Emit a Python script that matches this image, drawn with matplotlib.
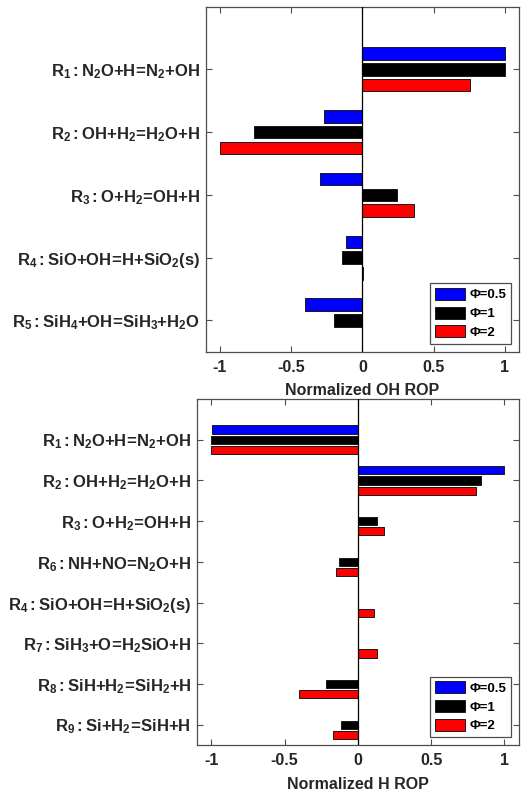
import matplotlib
matplotlib.use('Agg')
import matplotlib.pyplot as plt
import numpy as np

# Datos: ROP normalizado de OH (panel superior) y de H (panel inferior)
phi_labels = ['Φ=0.5', 'Φ=1', 'Φ=2']
colors = ['#0000ff', '#000000', '#ff0000']

oh_reactions = [
    r'$R_1:N_2O{+}H\!=\!N_2{+}OH$',
    r'$R_2:OH{+}H_2\!=\!H_2O{+}H$',
    r'$R_3:O{+}H_2\!=\!OH{+}H$',
    r'$R_4:SiO{+}OH\!=\!H{+}SiO_2(s)$',
    r'$R_5:SiH_4{+}OH\!=\!SiH_3{+}H_2O$',
]
oh_phi05 = [1.0, -0.271, -0.297, -0.117, -0.403]
oh_phi1 = [1.0, -0.762, 0.242, -0.145, -0.199]
oh_phi2 = [0.757, -1.0, 0.361, 0.003, 0.0]

h_reactions = [
    r'$R_1:N_2O{+}H\!=\!N_2{+}OH$',
    r'$R_2:OH{+}H_2\!=\!H_2O{+}H$',
    r'$R_3:O{+}H_2\!=\!OH{+}H$',
    r'$R_6:NH{+}NO\!=\!N_2O{+}H$',
    r'$R_4:SiO{+}OH\!=\!H{+}SiO_2(s)$',
    r'$R_7:SiH_3{+}O\!=\!H_2SiO{+}H$',
    r'$R_8:SiH{+}H_2\!=\!SiH_2{+}H$',
    r'$R_9:Si{+}H_2\!=\!SiH{+}H$',
]
h_phi05 = [-0.997, 1.0, 0.0, 0.0, 0.0, 0.0, 0.0, 0.0]
h_phi1 = [-1.0, 0.84, 0.132, -0.13, 0.0, 0.0, -0.218, -0.113]
h_phi2 = [-1.0, 0.805, 0.175, -0.15, 0.111, 0.134, -0.405, -0.169]

xticks = [-1, -0.5, 0, 0.5, 1]
xtick_labels = ['-1', '-0.5', '0', '0.5', '1']

plt.rcParams['font.family'] = 'Liberation Sans'
plt.rcParams['font.weight'] = 'bold'
plt.rcParams['mathtext.fontset'] = 'custom'
plt.rcParams['mathtext.rm'] = 'Liberation Sans:bold'
plt.rcParams['mathtext.it'] = 'Liberation Sans:bold'
plt.rcParams['mathtext.bf'] = 'Liberation Sans:bold'
plt.rcParams['axes.unicode_minus'] = False

text_color = '#262626'
spine_color = '#4d4d4d'

fig = plt.figure(figsize=(5.25, 7.93), dpi=100)
ax1 = fig.add_axes([0.3918, 0.5565, 0.5968, 0.4351])
ax2 = fig.add_axes([0.3747, 0.0605, 0.6139, 0.4363])


def draw_panel(ax, labels, series, xlabel):
    n = len(labels)
    y = np.arange(1, n + 1)
    offsets = [-0.25, 0.0, 0.25]
    handles = []
    for vals, off, c, lab in zip(series, offsets, colors, phi_labels):
        h = ax.barh(y + off, vals, height=0.2, color=c, edgecolor='#1a1a1a',
                    linewidth=0.7, label=lab, zorder=2)
        handles.append(h)
    ax.axvline(0, color='black', linewidth=0.9, zorder=3)
    ax.set_xlim(-1.1, 1.1)
    ax.set_ylim(n + 0.5, 0)
    ax.set_yticks(y)
    ax.set_yticklabels(labels, fontsize=12)
    ax.set_xticks(xticks)
    ax.set_xticklabels(xtick_labels, fontsize=11.5)
    ax.tick_params(direction='in', length=4, width=0.8, color=spine_color,
                   labelcolor=text_color, top=True, right=True)
    ax.tick_params(axis='x', pad=6)
    ax.tick_params(axis='y', pad=4)
    for sp in ax.spines.values():
        sp.set_color(spine_color)
        sp.set_linewidth(0.9)
    ax.set_xlabel(xlabel, fontsize=11.5, fontweight='bold', color=text_color,
                  labelpad=6)
    leg = ax.legend(handles=handles, loc='lower right', fontsize=9.5,
                    fancybox=False, edgecolor='#4d4d4d', framealpha=1,
                    handlelength=2.3, handleheight=1.0, handletextpad=0.3,
                    labelspacing=0.4, borderpad=0.35, borderaxespad=0.62)
    leg.get_frame().set_linewidth(0.9)
    for t in leg.get_texts():
        t.set_fontweight('bold')


draw_panel(ax1, oh_reactions, [oh_phi05, oh_phi1, oh_phi2], 'Normalized OH ROP')
draw_panel(ax2, h_reactions, [h_phi05, h_phi1, h_phi2], 'Normalized H ROP')

fig.savefig('out.png', dpi=100)
